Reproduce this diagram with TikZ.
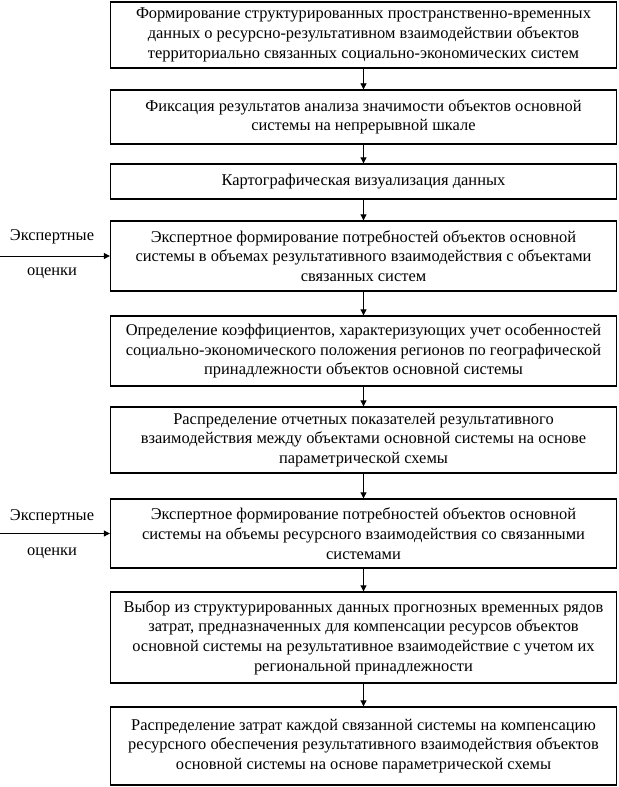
\documentclass[tikz,border=0pt]{standalone}
\usepackage{fontspec}
\setmainfont{Liberation Serif}
\newfontfamily\tnr{Liberation Serif}
\usetikzlibrary{arrows.meta}
\begin{document}
\begin{tikzpicture}[x=1bp,y=-1bp,
  box/.style={draw, line width=1.3bp, minimum width=506bp, align=center, inner sep=0pt,
    font=\tnr\fontsize{16.5}{19.8}\selectfont},
  lbl/.style={font=\tnr\fontsize{16.5}{19.8}\selectfont, inner sep=0pt},
  arr/.style={line width=0.8bp, -{Triangle[length=6bp,width=6bp]}}]
\useasboundingbox (0,0) rectangle (619,787);
\node[box, minimum height=66bp] (b1) at (363.5,35) {Формирование структурированных пространственно-временных\\данных о ресурсно-результативном взаимодействии объектов\\территориально связанных социально-экономических систем};
\node[box, minimum height=54bp] (b2) at (363.5,117) {Фиксация результатов анализа значимости объектов основной\\системы на непрерывной шкале};
\node[box, minimum height=35bp] (b3) at (363.5,181.5) {Картографическая визуализация данных};
\node[box, minimum height=70bp] (b4) at (363.5,256) {Экспертное формирование потребностей объектов основной\\системы в объемах результативного взаимодействия с объектами\\связанных систем};
\node[box, minimum height=70bp] (b5) at (363.5,351) {Определение коэффициентов, характеризующих учет особенностей\\социально-экономического положения регионов по географической\\принадлежности объектов основной системы};
\node[box, minimum height=66bp] (b6) at (363.5,440) {Распределение отчетных показателей результативного\\взаимодействия между объектами основной системы на основе\\параметрической схемы};
\node[box, minimum height=69bp] (b7) at (363.5,533.5) {Экспертное формирование потребностей объектов основной\\системы на объемы ресурсного взаимодействия со связанными\\системами};
\node[box, minimum height=91bp] (b8) at (363.5,637.5) {Выбор из структурированных данных прогнозных временных рядов\\затрат, предназначенных для компенсации ресурсов объектов\\основной системы на результативное взаимодействие с учетом их\\региональной принадлежности};
\node[box, minimum height=78bp] (b9) at (363.5,746) {Распределение затрат каждой связанной системы на компенсацию\\ресурсного обеспечения результативного взаимодействия объектов\\основной системы на основе параметрической схемы};
\draw[arr] (b1) -- (b2);
\draw[arr] (b2) -- (b3);
\draw[arr] (b3) -- (b4);
\draw[arr] (b4) -- (b5);
\draw[arr] (b5) -- (b6);
\draw[arr] (b6) -- (b7);
\draw[arr] (b7) -- (b8);
\draw[arr] (b8) -- (b9);
\coordinate (s1) at (0,256);
\coordinate (s2) at (0,533.5);
\draw[arr] (s1) -- (b4.west);
\draw[arr] (s2) -- (b7.west);
\node[lbl] (e1) at (52,237) {Экспертные};
\node[lbl] (o1) at (52,273) {оценки};
\node[lbl] (e2) at (52,517) {Экспертные};
\node[lbl] (o2) at (52,553) {оценки};
\end{tikzpicture}
\end{document}
